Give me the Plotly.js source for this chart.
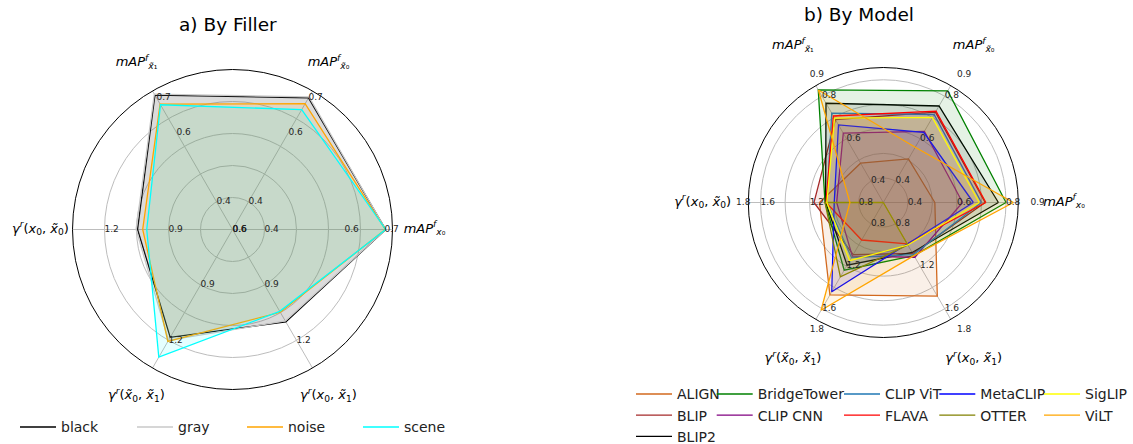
<!DOCTYPE html>
<html><head><meta charset="utf-8">
<script src="https://cdn.plot.ly/plotly-3.0.1.min.js"></script>
<style>html,body{margin:0;padding:0;background:#fff}#chart{width:1133px;height:444px}</style>
</head><body><div id="chart"></div>
<script>
// ---------- axes (counter-clockwise from the right) ----------
const axisThetas = [0, 60, 120, 180, 240, 300];
const axisLabels = [
  '<i>mAP</i><sup><i>f</i></sup><sub><i>x</i>₀</sub>',
  '<i>mAP</i><sup><i>f</i></sup><sub><i>x\u0303</i>₀</sub>',
  '<i>mAP</i><sup><i>f</i></sup><sub><i>x\u0303</i>₁</sub>',
  '<i>γ</i><sup><i>r</i></sup>(<i>x</i><sub>0</sub>, <i>x\u0303</i><sub>0</sub>)',
  '<i>γ</i><sup><i>r</i></sup>(<i>x\u0303</i><sub>0</sub>, <i>x\u0303</i><sub>1</sub>)',
  '<i>γ</i><sup><i>r</i></sup>(<i>x</i><sub>0</sub>, <i>x\u0303</i><sub>1</sub>)'
];
const axisKind = ['map', 'map', 'map', 'gamma', 'gamma', 'gamma'];

// ---------- a) By Filler ----------
const fillerNames = ['black', 'gray', 'noise', 'scene'];
const fillerBlack = [0.703, 0.700, 0.708, 1.045, 1.184, 1.100];
const fillerGray  = [0.703, 0.703, 0.711, 1.052, 1.200, 1.095];
const fillerNoise = [0.702, 0.683, 0.682, 1.021, 1.206, 1.048];
const fillerScene = [0.703, 0.666, 0.680, 1.002, 1.291, 1.043];
const fillerRangeMap = [0.32, 0.72];
const fillerRangeGamma = [0.6, 1.35];
const fillerTicksMap = [0.4, 0.6, 0.7];
const fillerTicksGamma = [0.6, 0.9, 1.2];

// ---------- b) By Model ----------
const modelNames = ['ALIGN', 'BLIP', 'BLIP2', 'BridgeTower', 'CLIP CNN', 'CLIP ViT',
                    'FLAVA', 'MetaCLIP', 'OTTER', 'SigLIP', 'ViLT'];
const mALIGN       = [0.510, 0.505, 0.485, 1.120, 1.470, 1.480];
const mBLIP        = [0.715, 0.725, 0.690, 1.165, 1.090, 1.080];
const mBLIP2       = [0.769, 0.754, 0.767, 1.070, 1.190, 1.070];
const mBridgeTower = [0.800, 0.825, 0.830, 1.075, 1.237, 1.100];
const mCLIPCNN     = [0.623, 0.635, 0.626, 0.980, 1.105, 1.115];
const mCLIPViT     = [0.700, 0.714, 0.720, 1.060, 1.118, 1.090];
const mFLAVA       = [0.718, 0.730, 0.707, 1.067, 0.953, 0.990];
const mMetaCLIP    = [0.667, 0.630, 0.665, 1.000, 1.440, 0.990];
const mOTTER       = [0.300, 0.300, 0.300, 1.075, 1.300, 1.000];
const mSigLIP      = [0.691, 0.700, 0.697, 1.060, 1.148, 1.000];
const mViLT        = [0.830, 0.560, 0.829, 0.872, 1.614, 1.100];
const modelRangeMap = [0.3, 0.8];
const modelRangeGamma = [0.6, 1.6];
const modelTicksMap = [0.4, 0.6, 0.8, 0.9];
const modelTicksGamma = [0.8, 1.2, 1.6, 1.8];

// ---------- styles ----------
const FONT = 'DejaVu Sans, Verdana, sans-serif';
const fillerColors = ['#000000', '#c8c8c8', '#ffa500', '#00ffff'];
const fillerFills = ['rgba(0,0,0,0.10)', 'rgba(150,150,150,0.12)', 'rgba(255,165,0,0.10)', 'rgba(0,255,255,0.10)'];
const modelColors = ['#d2691e', '#a52a2a', '#000000', '#008000', '#800080', '#1f77b4',
                     '#ff0000', '#0000ff', '#808000', '#ffff00', '#ffa500'];
const modelLegend = ['legend5', 'legend5', 'legend5', 'legend6', 'legend6', 'legend7',
                     'legend7', 'legend8', 'legend8', 'legend9', 'legend9'];

function hexToRgba(h, a) {
  const n = parseInt(h.slice(1), 16);
  return 'rgba(' + ((n >> 16) & 255) + ',' + ((n >> 8) & 255) + ',' + (n & 255) + ',' + a + ')';
}
function norm(v, kind, rMap, rGam) {
  const rg = kind === 'map' ? rMap : rGam;
  return (v - rg[0]) / (rg[1] - rg[0]);
}
function closedR(vals, rMap, rGam) {
  const r = vals.map((v, i) => norm(v, axisKind[i], rMap, rGam));
  return r.concat([r[0]]);
}
const closedTheta = axisThetas.concat([axisThetas[0]]);

const traces = [];
function addSeries(subplot, vals, rMap, rGam, name, color, fillcolor, legendId) {
  const r = closedR(vals, rMap, rGam);
  traces.push({type: 'scatterpolar', subplot: subplot, mode: 'lines', r: r, theta: closedTheta,
               fill: 'toself', fillcolor: fillcolor, line: {width: 0, color: 'rgba(0,0,0,0)'},
               showlegend: false, hoverinfo: 'skip'});
  traces.push({type: 'scatterpolar', subplot: subplot, mode: 'lines', r: r, theta: closedTheta,
               name: name, line: {color: color, width: 1.3}, legend: legendId, hoverinfo: 'name'});
}
[fillerBlack, fillerGray, fillerNoise, fillerScene].forEach((vals, k) => {
  addSeries('polar', vals, fillerRangeMap, fillerRangeGamma, fillerNames[k], fillerColors[k],
            fillerFills[k], k === 0 ? 'legend' : 'legend' + (k + 1));
});
[mALIGN, mBLIP, mBLIP2, mBridgeTower, mCLIPCNN, mCLIPViT, mFLAVA, mMetaCLIP, mOTTER, mSigLIP, mViLT]
  .forEach((vals, k) => {
  addSeries('polar2', vals, modelRangeMap, modelRangeGamma, modelNames[k], modelColors[k],
            hexToRgba(modelColors[k], 0.1), modelLegend[k]);
});

// per-axis tick labels (drawn in an overlay polar with the same scale but larger extent)
function tickTrace(subplot, ticksMap, ticksGam, rMap, rGam) {
  const r = [], th = [], tx = [];
  axisThetas.forEach((t, i) => {
    const ticks = axisKind[i] === 'map' ? ticksMap : ticksGam;
    ticks.forEach(v => {
      r.push(norm(v, axisKind[i], rMap, rGam)); th.push(t); tx.push(String(v));
    });
  });
  return {type: 'scatterpolar', subplot: subplot, mode: 'text', r: r, theta: th, text: tx,
          textposition: 'middle right', marker: {size: 1},
          textfont: {family: FONT, size: 9, color: '#262626'},
          cliponaxis: false, showlegend: false, hoverinfo: 'skip'};
}
traces.push(tickTrace('polar3', fillerTicksMap, fillerTicksGamma, fillerRangeMap, fillerRangeGamma));
traces.push(tickTrace('polar4', modelTicksMap, modelTicksGamma, modelRangeMap, modelRangeGamma));

function labelTrace(subplot, rad) {
  return {type: 'scatterpolar', subplot: subplot, mode: 'text',
          r: axisThetas.map(() => rad), theta: axisThetas, text: axisLabels,
          textposition: 'middle center',
          textfont: {family: FONT, size: 13, color: '#000'},
          cliponaxis: false, showlegend: false, hoverinfo: 'skip'};
}
traces.push(labelTrace('polar3', 1.2));
traces.push(labelTrace('polar4', 1.473));

const W = 1133, H = 444;
function dom(cx, cy, rad) {
  return {x: [(cx - rad) / W, (cx + rad) / W], y: [1 - (cy + rad) / H, 1 - (cy - rad) / H]};
}
function polarLayout(d, rmax, rings) {
  return {
    domain: d, bgcolor: 'rgba(0,0,0,0)',
    radialaxis: {range: [0, rmax], tickmode: 'array', tickvals: rings, showticklabels: false,
                 ticks: '', showline: false, gridcolor: '#bdbdbd', gridwidth: 1},
    angularaxis: {tickmode: 'array', tickvals: axisThetas, showticklabels: false, ticks: '',
                  direction: 'counterclockwise', rotation: 0,
                  gridcolor: '#bdbdbd', gridwidth: 1, showline: true, linecolor: '#000', linewidth: 1}
  };
}
function overlayLayout(d, rmax) {
  return {
    domain: d, bgcolor: 'rgba(0,0,0,0)',
    radialaxis: {range: [0, rmax], visible: false, showgrid: false},
    angularaxis: {visible: false, showgrid: false, showline: false, showticklabels: false, ticks: '',
                  direction: 'counterclockwise', rotation: 0}
  };
}
function legendAt(px, py) {
  return {x: px / W, y: 1 - py / H, xanchor: 'left', yanchor: 'top', orientation: 'v',
          bgcolor: 'rgba(0,0,0,0)', borderwidth: 0, itemwidth: 36,
          font: {family: FONT, size: 14, color: '#222'}};
}
// left: centre (232.5,229.5), 160 px per unit; right: centre (883.3,202.5), 122.7 px per unit
const layout = {
  width: W, height: H, margin: {l: 0, r: 0, t: 0, b: 0, autoexpand: false},
  paper_bgcolor: '#fff', plot_bgcolor: '#fff', showlegend: true,
  font: {family: FONT},
  polar: polarLayout(dom(232.5, 229.5, 160), 1.0, [0.2, 0.4, 0.6, 0.8]),
  polar2: polarLayout(dom(883.3, 202.5, 135), 1.1, [0.2, 0.4, 0.6, 0.8, 1.0]),
  polar3: overlayLayout(dom(232.5, 229.5, 210), 210 / 160),
  polar4: overlayLayout(dom(883.3, 202.5, 196.3), 1.6),
  legend: legendAt(15, 411.4),
  legend2: legendAt(132, 411.4),
  legend3: legendAt(242, 411.4),
  legend4: legendAt(358, 411.4),
  legend5: legendAt(631, 378.4),
  legend6: legendAt(711.7, 378.4),
  legend7: legendAt(839, 378.4),
  legend8: legendAt(934.3, 378.4),
  legend9: legendAt(1039, 378.4),
  annotations: [
    {text: 'a) By Filler', xref: 'paper', yref: 'paper', x: 227.5 / W, y: 1 - 24 / H,
     xanchor: 'center', yanchor: 'middle', showarrow: false, font: {family: FONT, size: 18.5, color: '#000'}},
    {text: 'b) By Model', xref: 'paper', yref: 'paper', x: 859 / W, y: 1 - 14 / H,
     xanchor: 'center', yanchor: 'middle', showarrow: false, font: {family: FONT, size: 18.5, color: '#000'}}
  ]
};
Plotly.newPlot('chart', traces, layout, {displayModeBar: false, staticPlot: true});
</script></body></html>
